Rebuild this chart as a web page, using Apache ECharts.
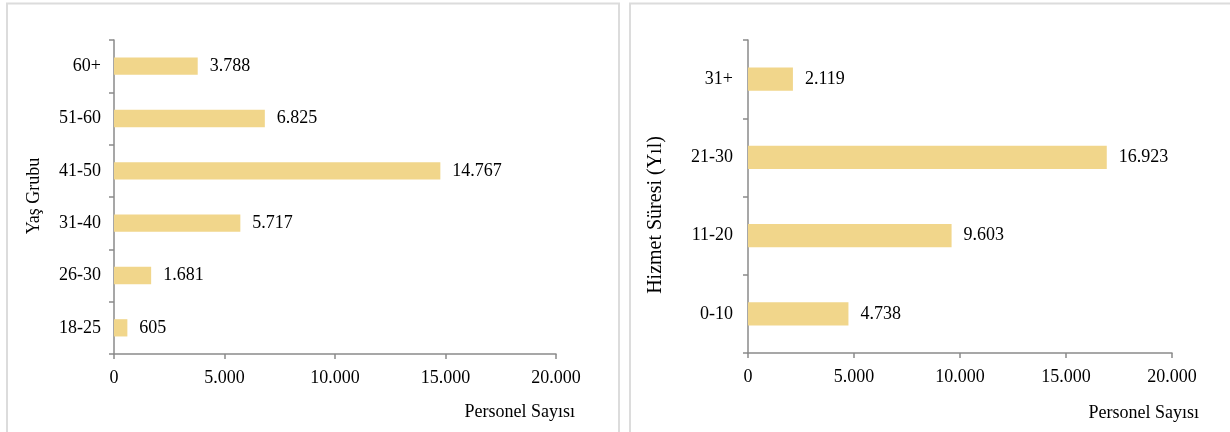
<!DOCTYPE html>
<html><head><meta charset="utf-8">
<script src="https://cdn.jsdelivr.net/npm/echarts@6/dist/echarts.min.js"></script>
<style>html,body{margin:0;padding:0;background:#fff}#c{width:1230px;height:432px}</style>
</head><body><div id="c"></div>
<script>
const ageCategories = ['18-25','26-30','31-40','41-50','51-60','60+'];
const ageValues = [605, 1681, 5717, 14767, 6825, 3788];
const serviceCategories = ['0-10','11-20','21-30','31+'];
const serviceValues = [4738, 9603, 16923, 2119];
const xTickValues = [0, 5000, 10000, 15000, 20000];
const xName = 'Personel Sayısı';
const ageAxisName = 'Yaş Grubu';
const serviceAxisName = 'Hizmet Süresi (Yıl)';

const FONT = '"Liberation Serif", "Times New Roman", serif';
const fmt = v => String(v).replace(/\B(?=(\d{3})+(?!\d))/g, '.');
const axisLine = {lineStyle:{color:'#8a8a8a', width:1.5}};
const axisTick = {show:true, inside:false, length:5, lineStyle:{color:'#8a8a8a', width:1.5}};
const barColor = '#F1D68B';

function xAxis(gridIndex){
  return {type:'value', gridIndex, min:xTickValues[0], max:xTickValues[xTickValues.length-1],
    interval:xTickValues[1]-xTickValues[0],
    axisLine:{show:true, ...axisLine}, axisTick, splitLine:{show:false},
    axisLabel:{color:'#000', fontFamily:FONT, fontSize:18, margin:15, formatter:fmt}};
}
function yAxis(gridIndex, data, margin){
  return {type:'category', gridIndex, data,
    axisLine:{show:true, ...axisLine}, axisTick:{...axisTick, alignWithLabel:false},
    axisLabel:{color:'#000', fontFamily:FONT, fontSize:18, margin}};
}
const label = {show:true, position:'right', distance:12, color:'#000', fontFamily:FONT, fontSize:18,
  formatter:p => fmt(p.value)};

const chart = echarts.init(document.getElementById('c'));
chart.setOption({
  animation:false,
  backgroundColor:'#fff',
  grid:[
    {left:114, top:40, width:442, height:314},
    {left:748, top:40, width:424, height:313}
  ],
  xAxis:[xAxis(0), xAxis(1)],
  yAxis:[yAxis(0, ageCategories, 13), yAxis(1, serviceCategories, 15)],
  series:[
    {type:'bar', xAxisIndex:0, yAxisIndex:0, data:ageValues, barCategoryGap:'67%',
     itemStyle:{color:barColor}, label},
    {type:'bar', xAxisIndex:1, yAxisIndex:1, data:serviceValues, barCategoryGap:'70%',
     itemStyle:{color:barColor}, label}
  ],
  graphic:[
    {type:'rect', shape:{x:7, y:3.5, width:612, height:440}, style:{fill:'none', stroke:'#dcdcdc', lineWidth:2}, silent:true},
    {type:'rect', shape:{x:630, y:3.5, width:620, height:440}, style:{fill:'none', stroke:'#dcdcdc', lineWidth:2}, silent:true},
    {type:'text', x:575, y:412, style:{text:xName, font:'18px ' + FONT, fill:'#000', align:'right', verticalAlign:'middle'}},
    {type:'text', x:1199, y:413, style:{text:xName, font:'18px ' + FONT, fill:'#000', align:'right', verticalAlign:'middle'}},
    {type:'text', x:34, y:196, rotation:Math.PI/2, style:{text:ageAxisName, font:'18px ' + FONT, fill:'#000', align:'center', verticalAlign:'middle'}},
    {type:'text', x:656, y:215, rotation:Math.PI/2, style:{text:serviceAxisName, font:'20px ' + FONT, fill:'#000', align:'center', verticalAlign:'middle'}}
  ]
});
</script></body></html>
